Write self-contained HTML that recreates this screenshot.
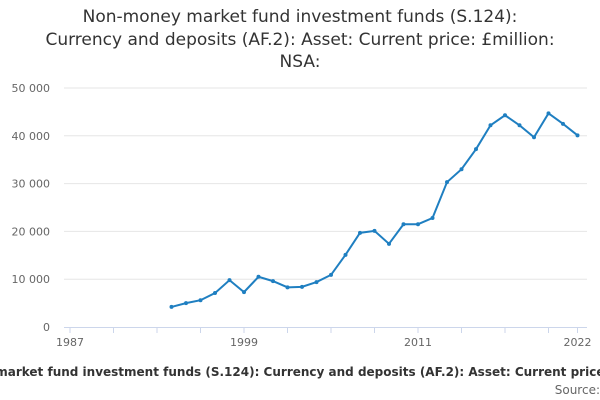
<!DOCTYPE html>
<html><head><meta charset="utf-8"><style>
body{margin:0;width:600px;height:400px;overflow:hidden;background:#fff;font-family:"DejaVu Sans","Liberation Sans",sans-serif;position:relative;}
#title{position:absolute;left:0;top:6px;width:600px;text-align:center;font-size:17px;line-height:22.5px;color:#333;}
#subwrap{position:absolute;left:0;top:365px;width:600px;height:18px;overflow:hidden;}
#sub{position:absolute;left:-86px;top:0;width:760px;text-align:center;white-space:nowrap;font-size:12px;font-weight:bold;color:#333;}
#src{position:absolute;right:0;top:383px;font-size:12px;color:#666;}
</style></head><body>
<div id="title">Non-money market fund investment funds (S.124):<br>Currency and deposits (AF.2): Asset: Current price: £million:<br>NSA:</div>
<svg id="chart" width="600" height="400" style="position:absolute;left:0;top:0"></svg>
<div id="subwrap"><div id="sub">Non-money market fund investment funds (S.124): Currency and deposits (AF.2): Asset: Current price: £million: NSA:</div></div>
<div id="src">Source:</div>
<script>
const years=[1994,1995,1996,1997,1998,1999,2000,2001,2002,2003,2004,2005,2006,2007,2008,2009,2010,2011,2012,2013,2014,2015,2016,2017,2018,2019,2020,2021,2022];
const values=[4200,5000,5600,7100,9800,7300,10500,9600,8300,8400,9400,10900,15100,19700,20100,17400,21500,21500,22800,30300,33000,37200,42200,44300,42200,39700,44700,42500,40100];
const yTicks=[0,10000,20000,30000,40000,50000];
const yTickLabels=["0","10 000","20 000","30 000","40 000","50 000"];
const xTickLabels=[1987,1999,2011,2022];
const NS="http://www.w3.org/2000/svg";
const svg=document.getElementById('chart');
const x=y=>70+(y-1987)*14.5;
const yS=v=>327-v*(239/50000);
function mk(t,a){const e=document.createElementNS(NS,t);for(const k in a)e.setAttribute(k,a[k]);svg.appendChild(e);return e;}
yTicks.forEach((v,i)=>{
 if(v>0){const g=mk('line',{x1:64,x2:587,y1:yS(v),y2:yS(v),stroke:'#e6e6e6'});
 
 }
 const t=mk('text',{x:50,y:yS(v)+4,'text-anchor':'end','font-size':'11','fill':'#666'});
 t.textContent=yTickLabels[i];
 
 
});
const ax=mk('line',{x1:64,x2:587,y1:327.5,y2:327.5,stroke:'#ccd6eb'});


for(let yr=1987;yr<=2020;yr+=3){const tk=mk('line',{x1:x(yr),x2:x(yr),y1:327,y2:333,stroke:'#ccd6eb'});

}
const tk2=mk('line',{x1:x(2022),x2:x(2022),y1:327,y2:333,stroke:'#ccd6eb'});


xTickLabels.forEach(yr=>{const t=mk('text',{x:x(yr),y:346,'text-anchor':'middle','font-size':'11','fill':'#666'});
t.textContent=yr;

});
const p=mk('polyline',{points:years.map((yr,i)=>x(yr)+','+yS(values[i])).join(' '),fill:'none',stroke:'#1f7fc1','stroke-width':2});


years.forEach((yr,i)=>{const c=mk('circle',{cx:x(yr),cy:yS(values[i]),r:2,fill:'#1f7fc1'});

});
</script>
</body></html>
